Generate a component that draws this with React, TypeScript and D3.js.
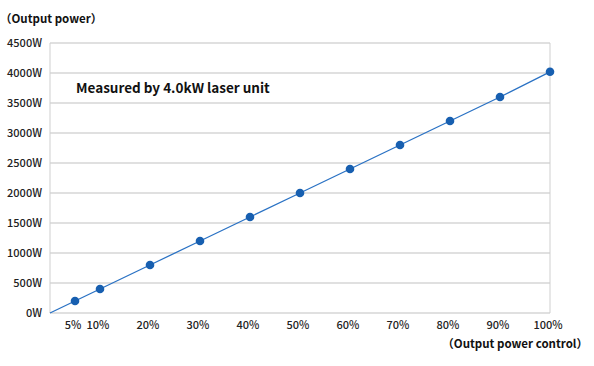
import React, { useEffect, useRef } from 'react';
import * as d3 from 'd3';

const controlPct = [0, 5, 10, 20, 30, 40, 50, 60, 70, 80, 90, 100];
const outputW = [0, 200, 400, 800, 1200, 1600, 2000, 2400, 2800, 3200, 3600, 4020];
const yTicks = [0, 500, 1000, 1500, 2000, 2500, 3000, 3500, 4000, 4500];
const xTickLabels = [5, 10, 20, 30, 40, 50, 60, 70, 80, 90, 100];

const W = 594;
const H = 366;
const FONT = '"Noto Sans CJK JP", "Noto Sans", sans-serif';

export default function App() {
  const svgRef = useRef<SVGSVGElement>(null);

  useEffect(() => {
    if (!svgRef.current) return;
    const svg = d3.select(svgRef.current);
    svg.selectAll('*').remove();

    const x = d3.scaleLinear().domain([0, 100]).range([50, 550]);
    const y = d3.scaleLinear().domain([0, 4500]).range([313, 43]);

    // gridlines
    svg.append('g')
      .selectAll('line')
      .data(yTicks)
      .enter()
      .append('line')
      .attr('x1', 50).attr('x2', 550)
      .attr('y1', d => y(d)).attr('y2', d => y(d))
      .attr('stroke', '#e0e0e0')
      .attr('stroke-width', 2);

    // left + right borders
    [0, 100].forEach(v => {
      svg.append('line')
        .attr('x1', x(v)).attr('x2', x(v))
        .attr('y1', y(4500)).attr('y2', y(0))
        .attr('stroke', '#cfcfcf')
        .attr('stroke-width', 1);
    });

    // y tick labels
    svg.append('g')
      .selectAll('text')
      .data(yTicks)
      .enter()
      .append('text')
      .attr('x', 42)
      .attr('y', d => y(d) + 4)
      .attr('text-anchor', 'end')
      .attr('font-family', FONT)
      .attr('font-size', 11)
      .attr('font-weight', 500)
      .attr('fill', '#222')
      .text(d => `${d}W`);

    // x tick labels
    svg.append('g')
      .selectAll('text')
      .data(xTickLabels)
      .enter()
      .append('text')
      .attr('x', d => x(d) - 2)
      .attr('y', 329)
      .attr('text-anchor', 'middle')
      .attr('font-family', FONT)
      .attr('font-size', 11)
      .attr('font-weight', 500)
      .attr('fill', '#222')
      .text(d => `${d}%`);

    // line
    const pts = controlPct.map((p, i) => [p, outputW[i]] as [number, number]);
    svg.append('path')
      .datum(pts)
      .attr('fill', 'none')
      .attr('stroke', '#2a72c4')
      .attr('stroke-width', 1.3)
      .attr('d', d3.line<[number, number]>().x(d => x(d[0])).y(d => y(d[1])));

    // markers (no marker at origin)
    svg.append('g')
      .selectAll('circle')
      .data(pts.slice(1))
      .enter()
      .append('circle')
      .attr('cx', d => x(d[0]))
      .attr('cy', d => y(d[1]))
      .attr('r', 4.3)
      .attr('fill', '#175fb0');

    // titles
    svg.append('text')
      .attr('x', 0).attr('y', 23)
      .attr('font-family', FONT).attr('font-size', 11.5).attr('font-weight', 700)
      .attr('fill', '#111')
      .text('（Output power）');

    svg.append('text')
      .attr('x', 588).attr('y', 348)
      .attr('text-anchor', 'end')
      .attr('font-family', FONT).attr('font-size', 11.5).attr('font-weight', 700)
      .attr('fill', '#111')
      .text('（Output power control）');

    svg.append('text')
      .attr('x', 76).attr('y', 93)
      .attr('font-family', FONT).attr('font-size', 13.5).attr('font-weight', 700)
      .attr('fill', '#111')
      .text('Measured by 4.0kW laser unit');
  }, []);

  return (
    <svg
      ref={svgRef}
      width={W}
      height={H}
      style={{ position: 'absolute', left: 0, top: 0, background: '#fff' }}
    />
  );
}
